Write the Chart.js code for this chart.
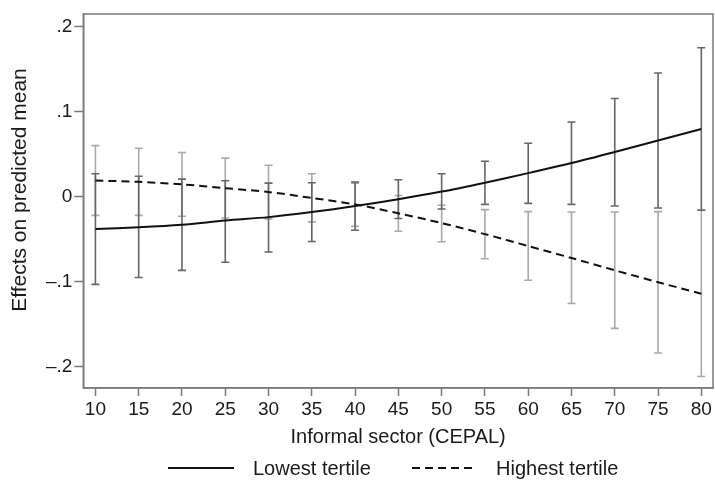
<!DOCTYPE html>
<html>
<head>
<meta charset="utf-8">
<script src="https://cdn.jsdelivr.net/npm/chart.js@4/dist/chart.umd.min.js"></script>
<style>
  html, body { margin: 0; padding: 0; background: #fff; }
  #wrap { width: 715px; height: 480px; }
</style>
</head>
<body>
<div id="wrap"><canvas id="chart" width="715" height="480"></canvas></div>
<script>
// informal sector share (CEPAL), x positions
const xVals = [10, 15, 20, 25, 30, 35, 40, 45, 50, 55, 60, 65, 70, 75, 80];
const xTicks = [10, 15, 20, 25, 30, 35, 40, 45, 50, 55, 60, 65, 70, 75, 80];
const yTicks = [-0.2, -0.1, 0, 0.1, 0.2];

// lowest tertile: estimate and CI
const lowest = [-0.038, -0.036, -0.033, -0.028, -0.024, -0.018, -0.011, -0.003, 0.006, 0.0165, 0.0277, 0.0395, 0.0525, 0.066, 0.0795];
const lowestLo = [-0.103, -0.095, -0.0866, -0.077, -0.065, -0.0526, -0.0394, -0.0257, -0.0144, -0.009, -0.0078, -0.009, -0.0109, -0.0132, -0.016];
const lowestHi = [0.027, 0.024, 0.0207, 0.0187, 0.016, 0.0164, 0.0172, 0.0199, 0.0269, 0.0417, 0.0628, 0.0877, 0.1154, 0.1454, 0.175];

// highest tertile: estimate and CI
const highest = [0.019, 0.0175, 0.0145, 0.010, 0.0055, -0.0015, -0.009, -0.0195, -0.031, -0.044, -0.058, -0.072, -0.0865, -0.1005, -0.114];
const highestLo = [-0.022, -0.022, -0.023, -0.025, -0.026, -0.0296, -0.0347, -0.0406, -0.053, -0.0729, -0.0982, -0.1255, -0.1547, -0.1836, -0.2113];
const highestHi = [0.060, 0.057, 0.052, 0.0453, 0.037, 0.0269, 0.016, 0.0015, -0.0101, -0.0152, -0.0175, -0.0179, -0.0179, -0.0175, -0.016];

const yTitle = "Effects on predicted mean";

const FONT = "'Liberation Sans', Arial, sans-serif";
const TXT = "#1a1a1a";
const FRAME = "#7a7a7a";

const toPts = (ys) => ys.map((y, i) => ({ x: xVals[i], y }));

const fmtY = (v) => {
    if (Math.abs(v) < 1e-9) return "0";
    const s = Math.abs(v).toFixed(1).replace(/^0/, "");
    return (v < 0 ? "\u2013" : "") + s;
};

// caps + whiskers, drawn under the lines
const errorBars = {
    id: "errorBars",
    beforeDatasetsDraw(chart) {
        const { ctx, scales: { x, y } } = chart;
        const sets = [
            { lo: highestLo, hi: highestHi, color: "#a9a9a9" },
            { lo: lowestLo, hi: lowestHi, color: "#666666" }
        ];
        ctx.save();
        ctx.lineWidth = 1.6;
        sets.forEach((s) => {
            ctx.strokeStyle = s.color;
            xVals.forEach((xv, i) => {
                const px = x.getPixelForValue(xv);
                const y1 = y.getPixelForValue(s.lo[i]);
                const y2 = y.getPixelForValue(s.hi[i]);
                ctx.beginPath();
                ctx.moveTo(px, y1); ctx.lineTo(px, y2);
                ctx.moveTo(px - 4, y1); ctx.lineTo(px + 4, y1);
                ctx.moveTo(px - 4, y2); ctx.lineTo(px + 4, y2);
                ctx.stroke();
            });
        });
        ctx.restore();
    }
};

// full box around the plot region, plus the rotated y title
const frame = {
    id: "frame",
    afterDraw(chart) {
        const { ctx, chartArea: a } = chart;
        ctx.save();
        ctx.strokeStyle = FRAME;
        ctx.lineWidth = 1.5;
        ctx.strokeRect(a.left, a.top, a.right - a.left, a.bottom - a.top);
        ctx.translate(20, 190);
        ctx.rotate(-Math.PI / 2);
        ctx.fillStyle = TXT;
        ctx.font = "21px " + FONT;
        ctx.textAlign = "center";
        ctx.textBaseline = "middle";
        ctx.fillText(yTitle, 0, 0);
        ctx.restore();
    }
};

// legend row under the axis title
const legendRow = {
    id: "legendRow",
    afterDraw(chart) {
        const { ctx } = chart;
        const yc = 468;
        const items = [
            { ds: chart.data.datasets[0], x0: 168, x1: 234, tx: 253 },
            { ds: chart.data.datasets[1], x0: 412, x1: 477, tx: 496 }
        ];
        ctx.save();
        items.forEach((it) => {
            ctx.strokeStyle = it.ds.borderColor;
            ctx.lineWidth = it.ds.borderWidth;
            ctx.setLineDash(it.ds.borderDash || []);
            ctx.beginPath();
            ctx.moveTo(it.x0, yc); ctx.lineTo(it.x1, yc);
            ctx.stroke();
            ctx.setLineDash([]);
            ctx.fillStyle = TXT;
            ctx.font = "20px " + FONT;
            ctx.textBaseline = "middle";
            ctx.fillText(it.ds.label, it.tx, yc + 1);
        });
        ctx.restore();
    }
};

new Chart(document.getElementById("chart"), {
    type: "line",
    data: {
        datasets: [
            {
                label: "Lowest tertile",
                data: toPts(lowest),
                borderColor: "#111",
                borderWidth: 2,
                pointRadius: 0,
                tension: 0.3
            },
            {
                label: "Highest tertile",
                data: toPts(highest),
                borderColor: "#111",
                borderWidth: 2,
                borderDash: [8, 5],
                pointRadius: 0,
                tension: 0.3
            }
        ]
    },
    options: {
        responsive: false,
        animation: false,
        layout: { padding: { top: 14, right: 2, left: 0, bottom: 0 } },
        plugins: {
            legend: { display: false },
            tooltip: { enabled: false }
        },
        scales: {
            x: {
                type: "linear",
                min: 8.6,
                max: 81.35,
                afterBuildTicks: (s) => { s.ticks = xTicks.map((v) => ({ value: v })); },
                afterFit: (s) => { s.height = 92; },
                grid: { drawOnChartArea: false, tickLength: 8, color: FRAME, tickWidth: 1.5 },
                border: { color: FRAME, width: 1.5 },
                ticks: { color: TXT, font: { family: FONT, size: 19 }, padding: 2, maxRotation: 0, autoSkip: false },
                title: {
                    display: true,
                    text: "Informal sector (CEPAL)",
                    color: TXT,
                    font: { family: FONT, size: 20 },
                    padding: { top: 0, bottom: 31 }
                }
            },
            y: {
                min: -0.2248,
                max: 0.2147,
                afterBuildTicks: (s) => { s.ticks = yTicks.map((v) => ({ value: v })); },
                afterFit: (s) => { s.width = 83.3; },
                grid: { drawOnChartArea: false, tickLength: 9, color: FRAME, tickWidth: 1.5 },
                border: { color: FRAME, width: 1.5 },
                ticks: { color: TXT, font: { family: FONT, size: 19 }, padding: 2, callback: (v) => fmtY(v) },
                title: { display: false }
            }
        }
    },
    plugins: [errorBars, frame, legendRow]
});
</script>
</body>
</html>
